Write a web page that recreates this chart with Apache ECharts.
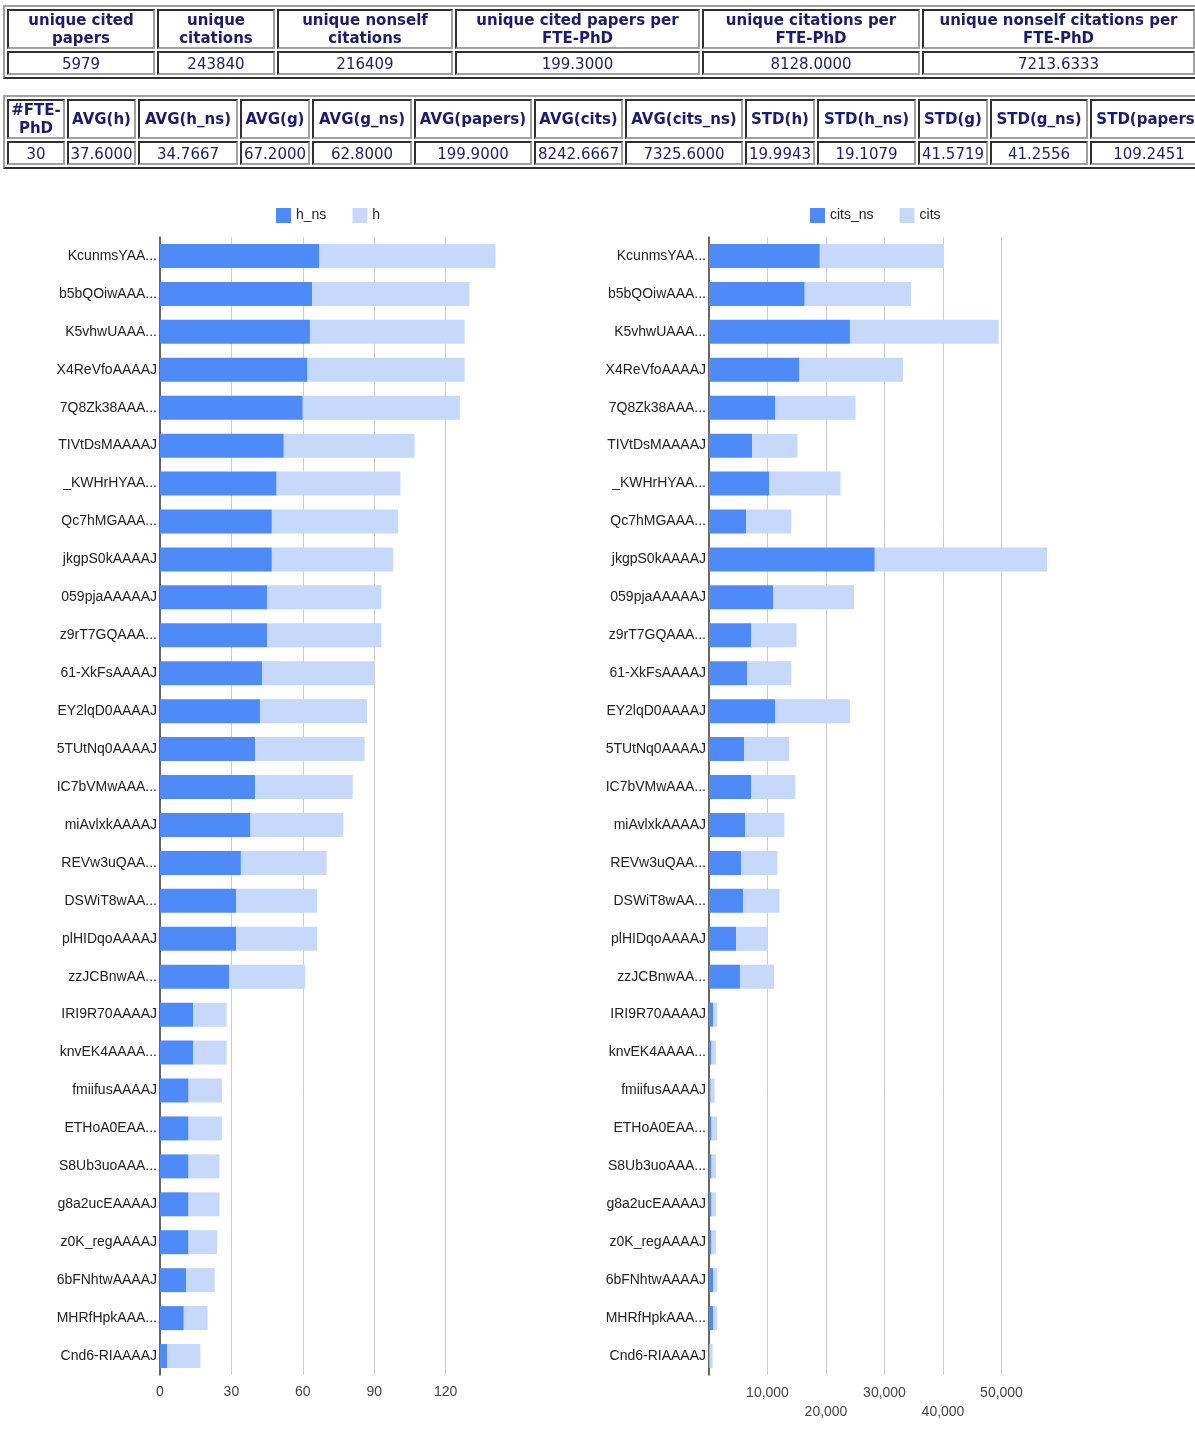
<!DOCTYPE html>
<html>
<head>
<meta charset="utf-8">
<script src="https://cdn.jsdelivr.net/npm/echarts@6/dist/echarts.min.js"></script>
<style>
  html, body { margin: 0; padding: 0; background: #fff; overflow: hidden; width: 1195px; height: 1429px; }
  #chart { position: absolute; left: 0; top: 0; width: 1195px; height: 1429px; }
  table.stats {
    position: absolute; z-index: 2;
    border-collapse: separate; border-spacing: 2px;
    border-style: solid; border-width: 2px;
    border-color: #a0a0a0 #303030 #303030 #a0a0a0;
    font-family: "DejaVu Sans", Verdana, sans-serif; font-size: 15px; color: #1b1b70;
    table-layout: fixed;
  }
  table.stats td, table.stats th {
    box-sizing: border-box;
    border-style: solid; border-width: 2px;
    border-color: #303030 #a0a0a0 #a0a0a0 #303030;
    padding: 0 1px; text-align: center; line-height: 18px; white-space: normal;
  }
  table.stats th { font-weight: bold; }
  table.stats td { font-weight: normal; padding: 2px 1px 0 1px; }
  #t1 { left: 3px; top: 5px; width: 1196px; }
  #t2 { left: 3px; top: 95px; width: 1209px; }
</style>
</head>
<body>
<table class="stats" id="t1"><tr id="t1h"></tr><tr id="t1v"></tr></table>
<table class="stats" id="t2"><tr id="t2h"></tr><tr id="t2v"></tr></table>
<div id="chart"></div>
<script>
// ---- summary table data ----
const summaryHeaders = ["unique cited papers", "unique citations", "unique nonself citations",
  "unique cited papers per FTE-PhD", "unique citations per FTE-PhD", "unique nonself citations per FTE-PhD"];
const summaryValues = ["5979", "243840", "216409", "199.3000", "8128.0000", "7213.6333"];

const statHeaders = ["#FTE-PhD", "AVG(h)", "AVG(h_ns)", "AVG(g)", "AVG(g_ns)", "AVG(papers)", "AVG(cits)",
  "AVG(cits_ns)", "STD(h)", "STD(h_ns)", "STD(g)", "STD(g_ns)", "STD(papers)"];
const statValues = ["30", "37.6000", "34.7667", "67.2000", "62.8000", "199.9000", "8242.6667",
  "7325.6000", "19.9943", "19.1079", "41.5719", "41.2556", "109.2451"];

// ---- chart data ----
const categories = ["KcunmsYAA...", "b5bQOiwAAA...", "K5vhwUAAA...", "X4ReVfoAAAAJ", "7Q8Zk38AAA...",
  "TIVtDsMAAAAJ", "_KWHrHYAA...", "Qc7hMGAAA...", "jkgpS0kAAAAJ", "059pjaAAAAAJ",
  "z9rT7GQAAA...", "61-XkFsAAAAJ", "EY2lqD0AAAAJ", "5TUtNq0AAAAJ", "IC7bVMwAAA...",
  "miAvlxkAAAAJ", "REVw3uQAA...", "DSWiT8wAA...", "plHIDqoAAAAJ", "zzJCBnwAA...",
  "IRI9R70AAAAJ", "knvEK4AAAA...", "fmiifusAAAAJ", "ETHoA0EAA...", "S8Ub3uoAAA...",
  "g8a2ucEAAAAJ", "z0K_regAAAAJ", "6bFNhtwAAAAJ", "MHRfHpkAAA...", "Cnd6-RIAAAAJ"];

const h_ns = [67, 64, 63, 62, 60, 52, 49, 47, 47, 45, 45, 43, 42, 40, 40, 38, 34, 32, 32, 29,
  14, 14, 12, 12, 12, 12, 12, 11, 10, 3];
const h = [74, 66, 65, 66, 66, 55, 52, 53, 51, 48, 48, 47, 45, 46, 41, 39, 36, 34, 34, 32,
  14, 14, 14, 14, 13, 13, 12, 12, 10, 14];

const cits_ns = [18940, 16360, 24090, 15460, 11350, 7380, 10310, 6340, 28340, 11000,
  7240, 6550, 11350, 5990, 7240, 6200, 5500, 5850, 4670, 5290,
  700, 420, 280, 420, 420, 420, 420, 700, 700, 70];
const cits = [21240, 18180, 25420, 17690, 13720, 7730, 12180, 7730, 29460, 13790,
  7730, 7520, 12740, 7730, 7520, 6680, 6200, 6200, 5360, 5850,
  690, 760, 690, 970, 760, 760, 760, 690, 690, 560];

const hTicks = [0, 30, 60, 90, 120];
const citTicks = ["10,000", "20,000", "30,000", "40,000", "50,000"];

// ---- build tables ----
const t1w = [148, 118, 176, 245, 218, 273];
const t2w = [58, 69, 100, 70, 100, 118, 89, 118, 70, 99, 70, 98, 118];
function fill(rowId, arr, widths, tag) {
  const tr = document.getElementById(rowId);
  arr.forEach((t, i) => {
    const c = document.createElement(tag);
    c.textContent = t;
    if (widths) c.style.width = widths[i] + "px";
    tr.appendChild(c);
  });
}
fill("t1h", summaryHeaders, t1w, "th");
fill("t1v", summaryValues, null, "td");
fill("t2h", statHeaders, t2w, "th");
fill("t2v", statValues, null, "td");

// ---- chart ----
const chart = echarts.init(document.getElementById("chart"), null, { renderer: "canvas" });
const dark = "#4e8af8", light = "#c6d9fa";
const font = "'Liberation Sans', Arial, sans-serif";
const gridTop = 237, gridH = 1138;

const option = {
  animation: false,
  textStyle: { fontFamily: font },
  color: [dark, light],
  legend: [
    { data: ["h_ns", "h"], left: 271, top: 203, itemWidth: 15, itemHeight: 15, icon: "rect", itemGap: 26,
      textStyle: { fontSize: 14, color: "#222", fontFamily: font } },
    { data: ["cits_ns", "cits"], left: 805, top: 203, itemWidth: 15, itemHeight: 15, icon: "rect", itemGap: 26,
      textStyle: { fontSize: 14, color: "#222", fontFamily: font } }
  ],
  grid: [
    { left: 160, top: gridTop, width: 357, height: gridH },
    { left: 709, top: gridTop, width: 351, height: gridH }
  ],
  xAxis: [
    { gridIndex: 0, type: "value", min: 0, max: 150, interval: 30,
      axisLine: { show: false }, axisTick: { show: false },
      splitLine: { show: true, showMinLine: false, showMaxLine: false, lineStyle: { color: "#cccccc", width: 1 } },
      axisLabel: { color: "#444", fontSize: 14, fontFamily: font, margin: 10, showMaxLabel: false,
        formatter: v => hTicks.indexOf(v) >= 0 ? String(v) : "" } },
    { gridIndex: 1, type: "value", min: 0, max: 60000, interval: 10000,
      axisLine: { show: false }, axisTick: { show: false },
      splitLine: { show: true, showMinLine: false, showMaxLine: false, lineStyle: { color: "#cccccc", width: 1 } },
      axisLabel: { color: "#444", fontSize: 14, fontFamily: font, margin: 9, lineHeight: 19, showMaxLabel: false,
        formatter: v => {
          const i = v / 10000 - 1;
          if (i < 0 || i >= citTicks.length) return "";
          return (i % 2 === 0) ? citTicks[i] : "\n" + citTicks[i];
        } } }
  ],
  yAxis: [
    { gridIndex: 0, type: "category", data: categories, inverse: true,
      axisLine: { show: true, lineStyle: { color: "#333", width: 1.5 } }, axisTick: { show: false },
      axisLabel: { color: "#222", fontSize: 14, fontFamily: font, margin: 3 } },
    { gridIndex: 1, type: "category", data: categories, inverse: true,
      axisLine: { show: true, lineStyle: { color: "#333", width: 1.5 } }, axisTick: { show: false },
      axisLabel: { color: "#222", fontSize: 14, fontFamily: font, margin: 3 } }
  ],
  series: [
    { name: "h_ns", type: "bar", stack: "h", xAxisIndex: 0, yAxisIndex: 0, data: h_ns, barWidth: 24, itemStyle: { color: dark } },
    { name: "h", type: "bar", stack: "h", xAxisIndex: 0, yAxisIndex: 0, data: h, barWidth: 24, itemStyle: { color: light } },
    { name: "cits_ns", type: "bar", stack: "c", xAxisIndex: 1, yAxisIndex: 1, data: cits_ns, barWidth: 24, itemStyle: { color: dark } },
    { name: "cits", type: "bar", stack: "c", xAxisIndex: 1, yAxisIndex: 1, data: cits, barWidth: 24, itemStyle: { color: light } }
  ]
};
chart.setOption(option);
</script>
</body>
</html>
